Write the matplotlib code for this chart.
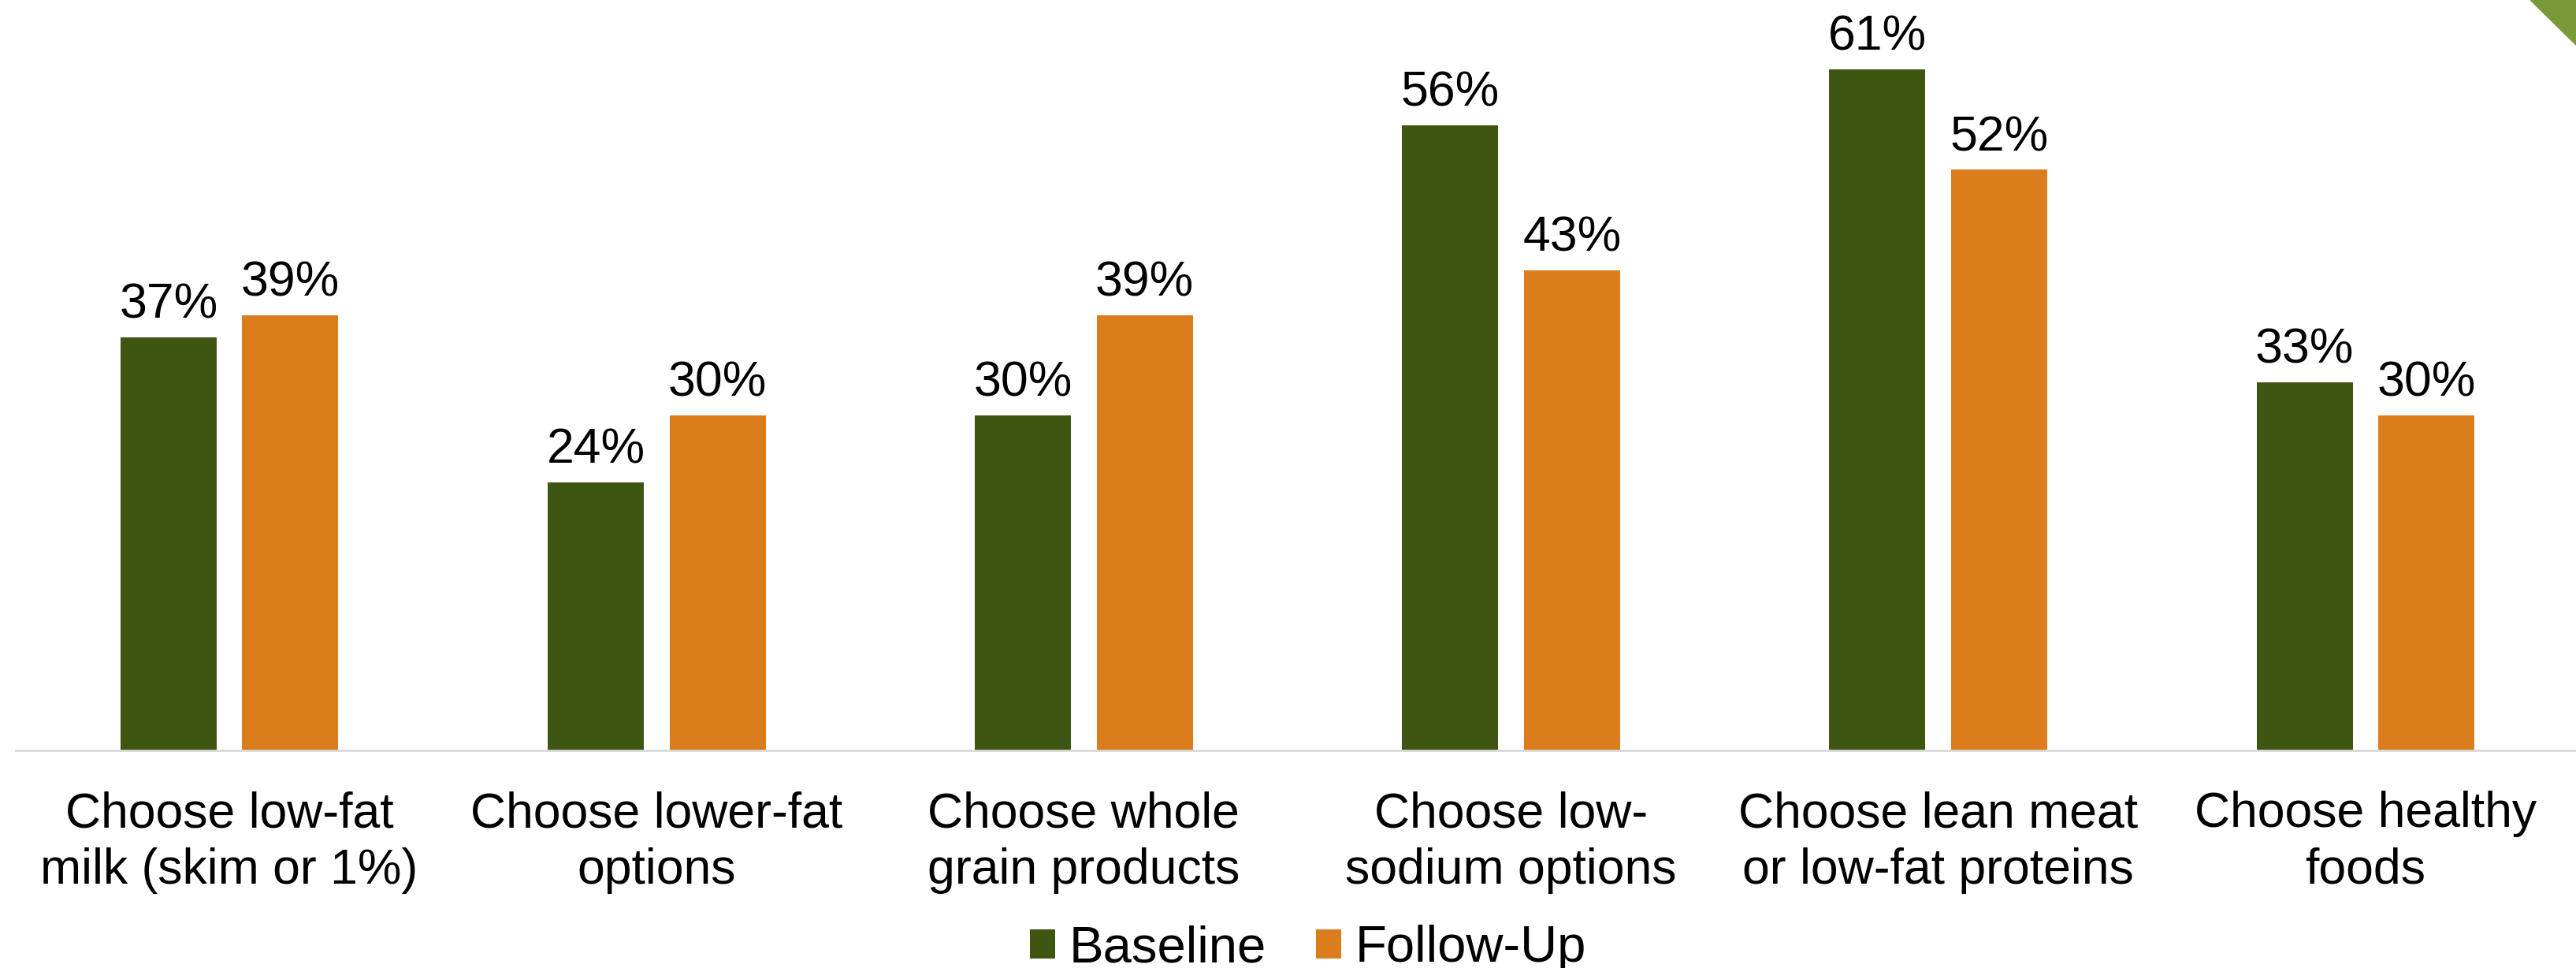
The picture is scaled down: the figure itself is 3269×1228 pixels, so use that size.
import numpy as np
import matplotlib.pyplot as plt
from matplotlib.patches import Polygon

categories = ['Choose low-fat\nmilk (skim or 1%)', 'Choose lower-fat\noptions',
              'Choose whole\ngrain products', 'Choose low-\nsodium options',
              'Choose lean meat\nor low-fat proteins', 'Choose healthy\nfoods']
baseline = [37, 24, 30, 56, 61, 33]
follow_up = [39, 30, 39, 43, 52, 30]

green = '#3F5612'
orange = '#DB7C1D'

plt.rcParams['font.family'] = ['Liberation Sans', 'DejaVu Sans']

fig = plt.figure(figsize=(32.69, 12.28), dpi=100)
ax = fig.add_axes([20 / 3269, 1 - 952 / 1228, 3253 / 3269, 952 / 1228])

x = np.arange(len(categories))
w = 0.225
off = 0.1425
b1 = ax.bar(x - off, baseline, w, color=green, label='Baseline')
b2 = ax.bar(x + off, follow_up, w, color=orange, label='Follow-Up')
for bars in (b1, b2):
    ax.bar_label(bars, labels=[f'{v}%' for v in bars.datavalues],
                 padding=8, fontsize=45)

ax.set_xlim(-0.5, 5.5)
ax.set_ylim(0, 67.2)
ax.set_yticks([])
ax.set_xticks(x)
ax.set_xticklabels(categories, fontsize=45, linespacing=1.27)
ax.tick_params(axis='x', length=0, pad=37)
for s in ['top', 'right', 'left']:
    ax.spines[s].set_visible(False)
ax.spines['bottom'].set_color('#D9D9D9')
ax.spines['bottom'].set_linewidth(2)

fig.legend(loc='lower center', bbox_to_anchor=(1660 / 3269, -0.031), ncol=2,
           frameon=False, fontsize=47, handlelength=0.49, handleheight=0.5,
           handletextpad=0.27, columnspacing=0.97, borderpad=0)

# corner triangle
fig.patches.append(Polygon([[3211 / 3269, 1], [1, 1], [1, 1 - 57 / 1228]],
                           closed=True, transform=fig.transFigure,
                           color='#7A9A3A', zorder=5))

fig.savefig('out.png', dpi=100, facecolor='white')
